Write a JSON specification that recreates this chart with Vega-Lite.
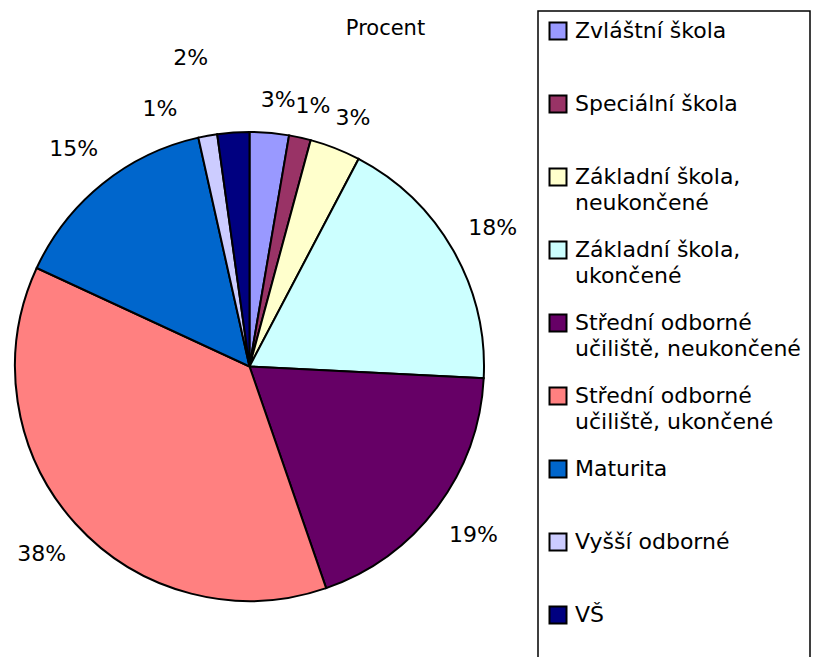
{
  "$schema": "https://vega.github.io/schema/vega-lite/v6.json",
  "autosize": "none",
  "width": 499,
  "height": 733,
  "padding": {"left": 0, "top": 0, "right": 339, "bottom": -76},
  "background": "white",
  "title": {"text": "Procent", "anchor": "middle", "frame": "group", "orient": "top", "baseline": "top", "offset": -39, "dy": 0, "dx": 136, "fontSize": 21, "font": "DejaVu Sans", "fontWeight": "normal", "color": "black"},
  "config": {"view": {"stroke": null}, "font": "DejaVu Sans"},
  "data": {"values": [
    {"i": 1, "name": "Zvláštní škola", "value": 2.7, "label": "3%"},
    {"i": 2, "name": "Speciální škola", "value": 1.5, "label": "1%"},
    {"i": 3, "name": "Základní škola, neukončené", "value": 3.5, "label": "3%"},
    {"i": 4, "name": "Základní škola, ukončené", "value": 18.1, "label": "18%"},
    {"i": 5, "name": "Střední odborné učiliště, neukončené", "value": 18.9, "label": "19%"},
    {"i": 6, "name": "Střední odborné učiliště, ukončené", "value": 37.2, "label": "38%"},
    {"i": 7, "name": "Maturita", "value": 14.6, "label": "15%"},
    {"i": 8, "name": "Vyšší odborné", "value": 1.3, "label": "1%"},
    {"i": 9, "name": "VŠ", "value": 2.2, "label": "2%"}
  ]},
  "encoding": {
    "theta": {"field": "value", "type": "quantitative", "stack": true},
    "order": {"field": "i", "type": "quantitative", "sort": "ascending"}
  },
  "layer": [
    {
      "mark": {"type": "arc", "outerRadius": 234.5, "stroke": "black", "strokeWidth": 2},
      "encoding": {
        "color": {
          "field": "name", "type": "nominal",
          "scale": {
            "domain": ["Zvláštní škola", "Speciální škola", "Základní škola, neukončené", "Základní škola, ukončené", "Střední odborné učiliště, neukončené", "Střední odborné učiliště, ukončené", "Maturita", "Vyšší odborné", "VŠ"],
            "range": ["#9999FF", "#993366", "#FFFFCC", "#CCFFFF", "#660066", "#FF8080", "#0066CC", "#CCCCFF", "#000080"]
          },
          "legend": {
            "orient": "none", "legendX": 538, "legendY": 11, "title": null,
            "symbolType": "square", "symbolSize": 289, "symbolStrokeColor": "black", "symbolStrokeWidth": 2, "symbolOpacity": 1,
            "labelFont": "DejaVu Sans", "labelFontSize": 22, "labelColor": "black", "labelLimit": 400, "labelOffset": 6,
            "padding": 9, "strokeColor": "black", "rowPadding": 23,
            "labelExpr": "indexof(datum.label, 'Střední odborné ') == 0 ? ['Střední odborné', slice(datum.label, 16)] : indexof(datum.label, ', ') > 0 ? [slice(datum.label, 0, indexof(datum.label, ', ') + 1), slice(datum.label, indexof(datum.label, ', ') + 2)] : [datum.label, '']",
            "encode": {
              "legend": {"update": {"strokeWidth": {"value": 1.5}}},
              "labels": {"update": {"lineHeight": {"value": 26}}},
              "symbols": {"update": {"stroke": {"value": "black"}, "strokeWidth": {"value": 2}}}
            }
          }
        }
      }
    },
    {
      "mark": {"type": "text", "radius": 267, "dx": 6, "fontSize": 22, "font": "DejaVu Sans", "color": "black"},
      "encoding": {"text": {"condition": {"test": "datum.i > 3", "value": ""}, "field": "label"}}
    },
    {
      "mark": {"type": "text", "radius": 280, "fontSize": 22, "font": "DejaVu Sans", "color": "black"},
      "encoding": {"text": {"condition": {"test": "datum.i < 4 || datum.i > 7", "value": ""}, "field": "label"}}
    },
    {
      "mark": {"type": "text", "radius": 272, "dx": -41, "dy": 10, "fontSize": 22, "font": "DejaVu Sans", "color": "black"},
      "encoding": {"text": {"condition": {"test": "datum.i != 8", "value": ""}, "field": "label"}}
    },
    {
      "mark": {"type": "text", "radius": 272, "dx": -40, "dy": -37, "fontSize": 22, "font": "DejaVu Sans", "color": "black"},
      "encoding": {"text": {"condition": {"test": "datum.i != 9", "value": ""}, "field": "label"}}
    }
  ]
}
